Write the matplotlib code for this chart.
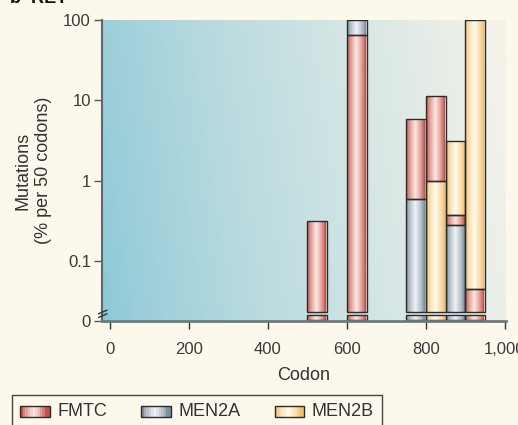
import numpy as np
import matplotlib
matplotlib.use('Agg')
import matplotlib.pyplot as plt
from matplotlib.colors import to_rgb
from matplotlib.patches import Rectangle
from matplotlib.legend_handler import HandlerBase

plt.rcParams['font.family'] = ['Liberation Sans', 'DejaVu Sans']
plt.rcParams['font.size'] = 12
plt.rcParams['text.color'] = '#333333'
plt.rcParams['axes.labelcolor'] = '#333333'
plt.rcParams['xtick.color'] = '#3a3a3a'
plt.rcParams['ytick.color'] = '#3a3a3a'

# codon bins (left edge), 50 codons wide
codon_start = [500, 600, 750, 800, 850, 900]
bin_width = 50
# segment sizes per series (% per 50 codons)
fmtc = [0.32, 65, 5.3, 10.4, 0.09, 0.045]
men2a = [0, 35, 0.59, 0, 0.28, 0]
men2b = [0, 0, 0, 1.0, 2.79, 99.95]
# stacking order from bottom for each bin
stack_order = [['FMTC'], ['FMTC', 'MEN2A'], ['MEN2A', 'FMTC'], ['MEN2B', 'FMTC'],
               ['MEN2A', 'FMTC', 'MEN2B'], ['FMTC', 'MEN2B']]
series = {'FMTC': fmtc, 'MEN2A': men2a, 'MEN2B': men2b}

y_ticks = [0.018, 0.1, 1, 10, 100]
y_ticklabels = ['0', '0.1', '1', '10', '100']
x_ticks = [0, 200, 400, 600, 800, 1000]
x_ticklabels = ['0', '200', '400', '600', '800', '1,000']

# shading: (edge colour, centre colour)
shade = {'FMTC': ('#c4514a', '#fbe6e0'),
         'MEN2A': ('#7b8f9e', '#eef2f4'),
         'MEN2B': ('#f2c070', '#fffaea')}

floor = 0.0232
stub = (0.0185, 0.0213)
bg = '#fcf8ec'


def grad_img(key, n=64):
    e = np.array(to_rgb(shade[key][0]))
    c = np.array(to_rgb(shade[key][1]))
    t = np.linspace(0, 1, n)
    w = np.clip(1 - np.abs(t - 0.45) / 0.45, 0, 1) ** 0.7
    img = e[None, :] * (1 - w[:, None]) + c[None, :] * w[:, None]
    return img[None, :, :]


def seg(ax, x0, b, t, key):
    p = Rectangle((x0, b), bin_width, t - b, facecolor='none', edgecolor='#2b2b2b',
                  linewidth=1.0, zorder=4)
    ax.add_patch(p)
    im = ax.imshow(grad_img(key), extent=[x0, x0 + bin_width, b, t], aspect='auto',
                   zorder=3, interpolation='bilinear')
    im.set_clip_path(p)


fig = plt.figure(figsize=(5.18, 4.25), dpi=100)
fig.patch.set_facecolor(bg)
ax = fig.add_axes([102 / 518, 1 - 321 / 425, 404 / 518, 301 / 425])
ax.set_facecolor(bg)

# background gradient
gx = np.linspace(0, 1, 256)
gy = np.linspace(0, 1, 64)
GX, GY = np.meshgrid(gx, gy)
tt = np.clip(GX * 0.9 + (1 - GY) * 0.1, 0, 1) ** 0.8
c0 = np.array(to_rgb('#8bc8d7'))
c1 = np.array(to_rgb('#f5f3ea'))
bgimg = c0 * (1 - tt[..., None]) + c1 * tt[..., None]
ax.imshow(bgimg, extent=[0, 1, 0, 1], transform=ax.transAxes, aspect='auto', zorder=0)

ax.set_yscale('log')
ax.set_xlim(-20, 1003)
ax.set_ylim(0.0185, 100)

for i, x0 in enumerate(codon_start):
    lo = floor
    cum = 0
    for k, key in enumerate(stack_order[i]):
        cum += series[key][i]
        seg(ax, x0, lo, cum, key)
        lo = cum
    seg(ax, x0, stub[0], stub[1], stack_order[i][0])

ax.set_yticks(y_ticks)
ax.set_yticklabels(y_ticklabels)
ax.yaxis.set_minor_locator(matplotlib.ticker.NullLocator())
ax.set_xticks(x_ticks)
ax.set_xticklabels(x_ticklabels)
ax.tick_params(axis='y', direction='out', length=6, width=1, color='#555555', pad=2)
ax.tick_params(axis='x', direction='out', length=6, width=1, color='#333333', pad=9)
for s in ['top', 'right']:
    ax.spines[s].set_visible(False)
ax.spines['left'].set_color('#666666')
ax.spines['left'].set_linewidth(1.5)
ax.spines['bottom'].set_color('#6b7b80')
ax.spines['bottom'].set_linewidth(2)
ax.spines['bottom'].set_zorder(5)

# axis break marks
for dy in [0.018, 0.030]:
    ax.plot([-0.008, 0.012], [dy - 0.006, dy + 0.006], transform=ax.transAxes,
            color='#333333', lw=1, clip_on=False, zorder=6)

ax.set_xlabel('Codon', labelpad=7, fontsize=13)
ax.set_ylabel('Mutations\n(% per 50 codons)', labelpad=8, fontsize=13, linespacing=1.3)

fig.text(10 / 518, 1 - 3 / 425, 'b  RET', fontweight='bold', fontsize=13, color='#111111',
         va='baseline')


class GradHandler(HandlerBase):
    def create_artists(self, legend, orig, xd, yd, width, height, fontsize, trans):
        key = orig.get_label()
        img = grad_img(key, 12)[0]
        arts = []
        for j in range(12):
            arts.append(Rectangle((xd + width * j / 12, yd), width / 12, height,
                                  facecolor=img[j], edgecolor='none', transform=trans))
        arts.append(Rectangle((xd, yd), width, height, facecolor='none',
                              edgecolor='#2b2b2b', lw=1, transform=trans))
        return arts


handles = [Rectangle((0, 0), 1, 1, label=k) for k in ['FMTC', 'MEN2A', 'MEN2B']]
leg = fig.legend(handles=handles, labels=['FMTC', 'MEN2A', 'MEN2B'], ncol=3,
                 loc='upper left', bbox_to_anchor=(12 / 518, 1 - 395 / 425),
                 handler_map={Rectangle: GradHandler()}, frameon=True, fancybox=False,
                 edgecolor='#444444', facecolor=bg, framealpha=1, borderaxespad=0,
                 handlelength=1.65, handleheight=0.55, columnspacing=1.9, handletextpad=0.4,
                 fontsize=13, borderpad=0.45)
leg.get_frame().set_linewidth(1)

fig.savefig('out.png', dpi=100, facecolor=bg)
